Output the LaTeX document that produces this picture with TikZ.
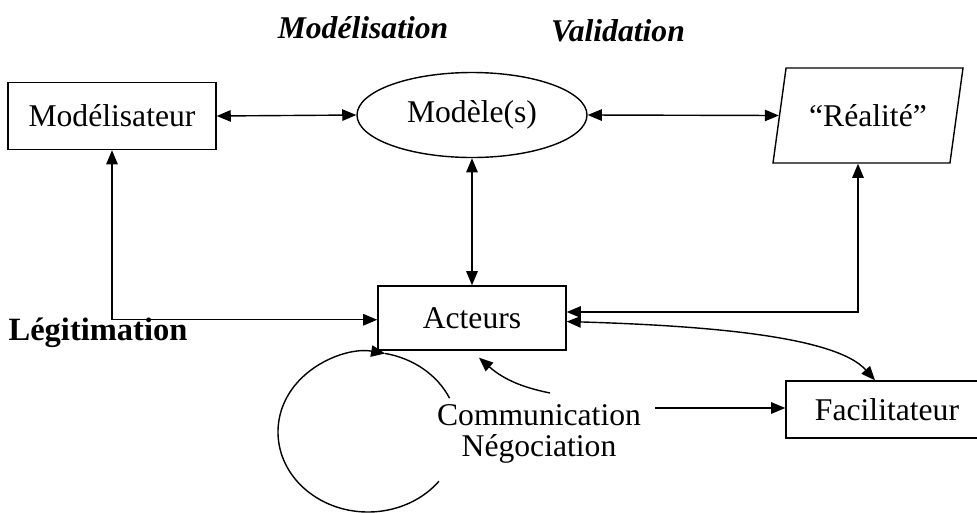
\documentclass[tikz,border=0pt]{standalone}
\usepackage{fontspec}
\setmainfont{Liberation Serif}
\usetikzlibrary{arrows.meta,shapes.geometric}

\begin{document}
\begin{tikzpicture}[
		line width=0.8pt,
		>={Triangle[length=8pt,width=6.5pt]},
		box/.style={rectangle, draw, line width=0.8pt, font=\fontsize{18}{21}\selectfont},
		dbl/.style={<->},
		titre/.style={font=\fontsize{18}{21}\selectfont\bfseries\itshape}
	]
	\useasboundingbox (0,0) rectangle (19.54,-10.24);

	% Titres
	\node[titre] (modelisation) at (7.26, -0.56) {Modélisation};
	\node[titre] (validation) at (12.36, -0.62) {Validation};
	\node[font=\fontsize{18.5}{21}\selectfont\bfseries] (legitimation) at (1.96, -6.66) {Légitimation};

	% Noeuds principaux
	\node[box, minimum width=4.16cm, minimum height=1.34cm] (modelisateur) at (2.24, -2.32) {Modélisateur};
	\node[box, ellipse, minimum width=4.6cm, minimum height=1.7cm] (modeles) at (9.44, -2.3) {Modèle(s)};
	\node[box, trapezium, trapezium left angle=69, trapezium right angle=111, trapezium stretches body=true,
		minimum width=3.8cm, minimum height=1.9cm] (realite) at (17.36, -2.31) {``Réalité''};
	\node[box, minimum width=3.76cm, minimum height=1.28cm] (acteurs) at (9.44, -6.36) {Acteurs};
	\node[box, minimum width=4.04cm, minimum height=1.14cm] (facilitateur) at (17.74, -8.19) {Facilitateur};
	\node[font=\fontsize{18}{18}\selectfont, align=center] (comm) at (10.78, -8.68) {Communication\\Négociation};

	% Points libres
	\coordinate (rcol) at (17.16, -6.24);
	\coordinate (cstart) at (11.0, -7.86);
	\coordinate (fstart) at (13.1, -8.16);
	\coordinate (boucle) at (7.36, -8.64);

	% Liens du haut
	\draw[dbl] (modelisateur.east) -- (modeles.west);
	\draw[dbl] (modeles.east) -- (realite.left side);
	\draw[dbl] (modeles.south) -- (acteurs.north);

	% Liens vers les acteurs
	\draw[dbl] (modelisateur.south) |- ([yshift=-1pt]acteurs.west);
	\draw[dbl] (rcol |- realite.bottom side) -- (rcol) -- (rcol -| acteurs.east);
	\draw[dbl] ([yshift=-2pt]acteurs.east) .. controls +(2.66,-0.08) and +(-0.8,0.9) .. ([xshift=-0.24cm]facilitateur.north);

	% Communication
	\draw[->] (cstart) to[bend left=15] ([xshift=0.14cm, yshift=-0.14cm]acteurs.south);
	\draw[->] (fstart) -- (fstart -| facilitateur.west);

	% Boucle
	\draw[->] (boucle) ++(-38:1.8 and 1.6) arc[start angle=-38, end angle=-281, x radius=1.8, y radius=1.6];
	\draw (boucle) ++(79:1.8 and 1.6) arc[start angle=79, end angle=25, x radius=1.8, y radius=1.6];
\end{tikzpicture}
\end{document}
